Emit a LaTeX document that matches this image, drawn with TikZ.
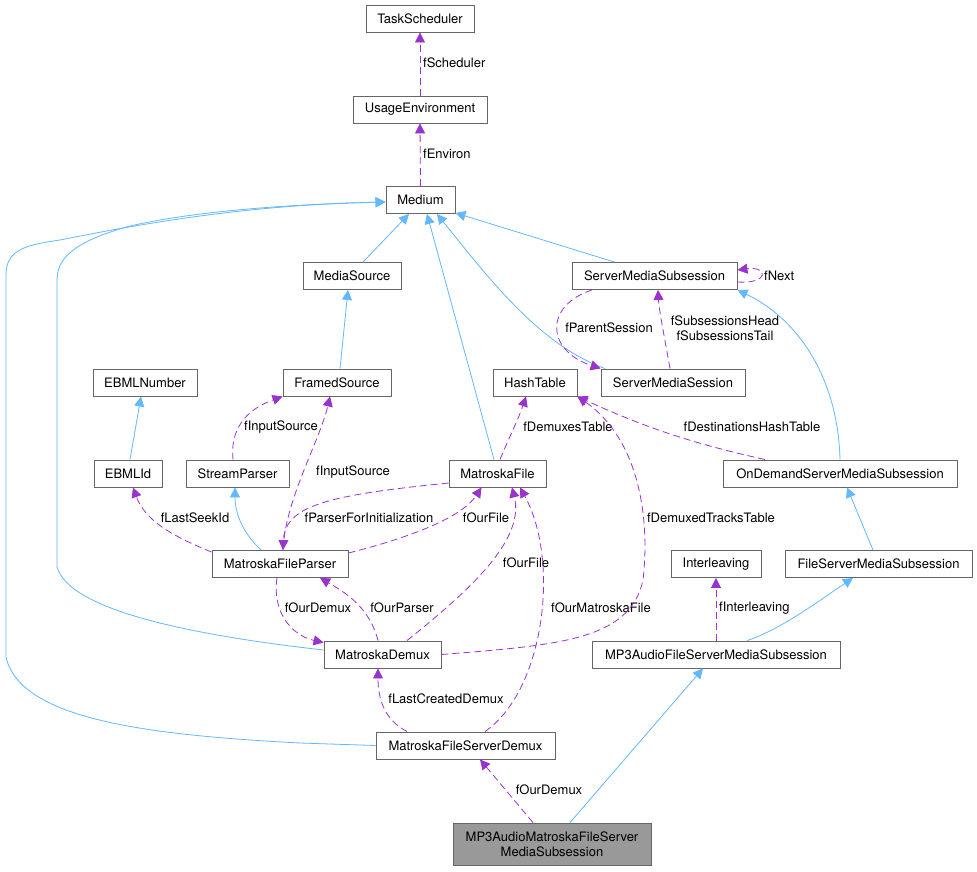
\documentclass[tikz,border=0pt]{standalone}
\usepackage{fontspec}
\setmainfont{TeX Gyre Heros}
\usetikzlibrary{arrows.meta}
\definecolor{inhblue}{HTML}{63B8FF}
\definecolor{usepurple}{HTML}{9A32CD}
\definecolor{boxgray}{HTML}{666666}
\definecolor{focusgray}{HTML}{999999}
\newcommand\lblfont{\fontsize{13}{15}\selectfont}
\begin{document}
\begin{tikzpicture}[x=1pt,y=-1pt,
  cls/.style={draw=boxgray, line width=0.9pt, fill=white, minimum height=27pt, inner sep=0pt, font=\lblfont},
  focus/.style={cls, fill=focusgray, minimum height=42pt, align=center},
  inh/.style={draw=inhblue, line width=0.8pt, -{Triangle[length=10pt,width=10pt]}},
  use/.style={draw=usepurple, line width=0.8pt, dash pattern=on 7pt off 4pt, -{Triangle[length=10pt,width=10pt]}},
  lab/.style={font=\lblfont, inner sep=0pt, align=center}]
\fill[white] (0,0) rectangle (977,871);
\useasboundingbox (0,0) rectangle (977,871);

% nodes
\node[cls,minimum width=108pt] (TS) at (420,18.5) {TaskScheduler};
\node[cls,minimum width=134pt] (UE) at (420,109.5) {UsageEnvironment};
\node[cls,minimum width=69pt] (Med) at (420.5,200) {Medium};
\node[cls,minimum width=98pt] (MS) at (352,276) {MediaSource};
\node[cls,minimum width=165pt] (SMSub) at (654.5,276) {ServerMediaSubsession};
\node[cls,minimum width=104pt] (EBN) at (145,382.5) {EBMLNumber};
\node[cls,minimum width=108pt] (FS) at (337,382.5) {FramedSource};
\node[cls,minimum width=84pt] (HT) at (535,382.5) {HashTable};
\node[cls,minimum width=144pt] (SMSess) at (673,382.5) {ServerMediaSession};
\node[cls,minimum width=68pt] (EBI) at (128,473.5) {EBMLId};
\node[cls,minimum width=103pt] (SP) at (237.5,473.5) {StreamParser};
\node[cls,minimum width=97pt] (MF) at (497.5,473.5) {MatroskaFile};
\node[cls,minimum width=234pt] (OD) at (840,473.5) {OnDemandServerMediaSubsession};
\node[cls,minimum width=136pt] (MFP) at (280,564) {MatroskaFileParser};
\node[cls,minimum width=90pt] (IL) at (716,564) {Interleaving};
\node[cls,minimum width=187pt] (FSMS) at (878.5,564) {FileServerMediaSubsession};
\node[cls,minimum width=117pt] (MD) at (382.5,654.5) {MatroskaDemux};
\node[cls,minimum width=248pt] (MP3F) at (716,654.5) {MP3AudioFileServerMediaSubsession};
\node[cls,minimum width=179pt] (MFSD) at (465.5,745.5) {MatroskaFileServerDemux};
\node[focus,minimum width=198pt] (MP3M) at (552,844) {MP3AudioMatroskaFileServer\\MediaSubsession};

% inheritance
\draw[inh] ([xshift=11pt]MS.north) -- ([xshift=-11.5pt]Med.south);
\draw[inh] ([xshift=3pt]FS.north) -- ([xshift=-4pt]MS.south);
\draw[inh] ([xshift=-3.5pt]MF.north) -- ([xshift=6.5pt]Med.south);
\draw[inh] ([xshift=-40pt]SMSub.north) -- ([yshift=1pt]Med.south east);
\draw[inh] ([xshift=-68pt]SMSess.north) .. controls (540,345) and (490,280) .. ([xshift=16.5pt]Med.south);
\draw[inh] ([xshift=2pt]EBI.north) -- ([xshift=-4pt]EBN.south);
\draw[inh] ([xshift=-19pt]MFP.north) .. controls (240,530) and (235,510) .. ([xshift=-2.5pt]SP.south);
\draw[inh] (OD.north) .. controls (838,380) and (800,320) .. (SMSub.south east);
\draw[inh] ([xshift=-5.5pt]FSMS.north) -- ([xshift=7pt]OD.south);
\draw[inh] ([xshift=31pt]MP3F.north) .. controls (780,630) and (820,600) .. ([xshift=-25.5pt]FSMS.south);
\draw[inh] ([xshift=18pt]MP3M.north) -- ([xshift=-13pt]MP3F.south);
\draw[inh] ([yshift=4.5pt]MD.west) .. controls (200,636) and (70,612) .. (57,567) -- (57,280)
  .. controls (57,255) and (80,240) .. (130,226) .. controls (200,210) and (300,204) .. ([yshift=-2pt]Med.west);
\draw[inh] (MFSD.west) -- (300,743) .. controls (150,735) and (20,720) .. (6,657) -- (6,275)
  .. controls (6,250) and (25,245) .. (60,240) .. controls (150,222) and (250,205) .. ([yshift=-2pt]Med.west);

% usage
\draw[use] (UE.north) -- (TS.south);
\node[lab,anchor=west] (lSched) at (423,63) {fScheduler};
\draw[use] (Med.north) -- (UE.south);
\node[lab,anchor=west] (lEnv) at (423,154) {fEnviron};
\draw[use] ([yshift=-6pt]SMSub.east) .. controls (770,284) and (768,266) .. ([yshift=6pt]SMSub.east);
\node[lab,anchor=west] (lNext) at (764,276) {fNext};
\draw[use] ([xshift=-62.5pt]SMSub.south) .. controls (545,305) and (545,350) .. (SMSess.north west);
\node[lab] (lParent) at (609,328) {fParentSession};
\draw[use] ([xshift=-3pt]SMSess.north) .. controls (665,340) and (659,310) .. ([xshift=3.5pt]SMSub.south);
\node[lab] (lSubs) at (725,328) {fSubsessionsHead\\fSubsessionsTail};
\draw[use] ([xshift=-4.5pt]SP.north) .. controls (230,430) and (245,410) .. (FS.south west);
\node[lab] (lIn1) at (281,427) {fInputSource};
\draw[use] ([xshift=3pt]MFP.north) .. controls (285,500) and (320,440) .. ([xshift=-7pt]FS.south);
\node[lab] (lIn2) at (353,472) {fInputSource};
\draw[use] ([yshift=-9.5pt]MF.west) .. controls (330,495) and (285,505) .. ([xshift=3pt]MFP.north);
\node[lab] (lPFI) at (369,518) {fParserForInitialization};
\draw[use] ([yshift=11pt]MFP.east) .. controls (400,540) and (460,520) .. ([xshift=-16pt]MF.south);
\node[lab] (lOF1) at (486,518) {fOurFile};
\draw[use] ([yshift=-2pt]MFP.north west) .. controls (170,535) and (145,520) .. ([xshift=5pt]EBI.south);
\node[lab] (lLSI) at (195,518) {fLastSeekId};
\draw[use] ([xshift=-3pt]MFP.south) .. controls (272,610) and (290,635) .. ([yshift=-2pt]MD.north west);
\node[lab] (lOD1) at (318,608) {fOurDemux};
\draw[use] ([xshift=-4.5pt]MD.north) .. controls (370,610) and (350,595) .. ([xshift=40pt]MFP.south);
\node[lab] (lOP) at (402,608) {fOurParser};
\draw[use] ([xshift=24.5pt]MD.north) .. controls (470,590) and (525,540) .. ([xshift=14.5pt]MF.south);
\node[lab] (lOF2) at (526,563) {fOurFile};
\draw[use] ([xshift=19.5pt]MFSD.north) .. controls (545,690) and (560,560) .. ([xshift=22.5pt]MF.south);
\node[lab] (lOMF) at (601,608) {fOurMatroskaFile};
\draw[use] ([xshift=-58.5pt]MFSD.north) .. controls (385,720) and (378,700) .. ([xshift=-4.5pt]MD.south);
\node[lab] (lLCD) at (446,699) {fLastCreatedDemux};
\draw[use] ([xshift=2.5pt]MF.north) .. controls (508,440) and (518,420) .. ([xshift=-9pt]HT.south);
\node[lab] (lDT) at (568,427) {fDemuxesTable};
\draw[use] (MD.east) .. controls (560,645) and (630,640) .. (643,580) .. controls (650,520) and (640,440) .. (HT.south east);
\node[lab] (lDTT) at (711,518) {fDemuxedTracksTable};
\draw[use] ([xshift=-75pt]OD.north) .. controls (700,445) and (650,430) .. (HT.south east);
\node[lab] (lDHT) at (752,427) {fDestinationsHashTable};
\draw[use] (MP3F.north) -- (IL.south);
\node[lab,anchor=west] (lIL) at (719,608) {fInterleaving};
\draw[use] ([xshift=-19pt]MP3M.north) -- ([xshift=14.5pt]MFSD.south);
\node[lab] (lOD2) at (549,790) {fOurDemux};
\end{tikzpicture}
\end{document}
